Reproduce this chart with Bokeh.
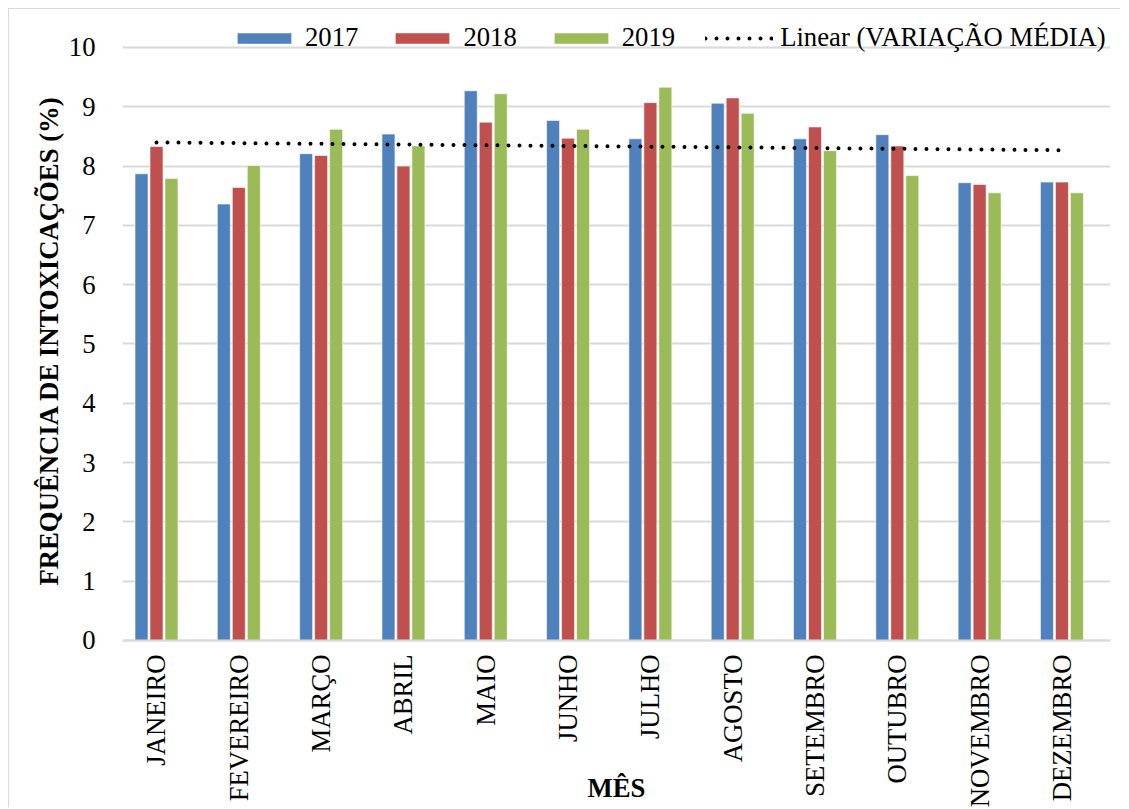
import math
import numpy as np
from bokeh.plotting import figure
from bokeh.models import Range1d, FixedTicker, Legend, LegendItem, ColumnDataSource, Title
from bokeh.transform import dodge
from bokeh.embed import file_html
from bokeh.resources import INLINE

# ---------------- data ----------------
months = ["JANEIRO", "FEVEREIRO", "MARÇO", "ABRIL", "MAIO", "JUNHO",
          "JULHO", "AGOSTO", "SETEMBRO", "OUTUBRO", "NOVEMBRO", "DEZEMBRO"]
v2017 = [7.87, 7.36, 8.21, 8.54, 9.27, 8.77, 8.46, 9.06, 8.46, 8.53, 7.72, 7.73]
v2018 = [8.33, 7.64, 8.18, 8.00, 8.74, 8.47, 9.07, 9.15, 8.66, 8.34, 7.69, 7.73]
v2019 = [7.79, 8.01, 8.62, 8.34, 9.22, 8.62, 9.33, 8.89, 8.26, 7.84, 7.55, 7.55]
series_names = ["2017", "2018", "2019"]
trend_name = "Linear (VARIAÇÃO MÉDIA)"
y_ticks = [0, 1, 2, 3, 4, 5, 6, 7, 8, 9, 10]
y_title = "FREQUÊNCIA DE INTOXICAÇÕES (%)"
x_title = "MÊS"

colors = ["#4F81BD", "#C0504D", "#9BBB59"]
FONT = "Liberation Serif"
FS = "26.7px"

xpos = list(range(1, len(months) + 1))
avg = np.mean([v2017, v2018, v2019], axis=0)
slope, intercept = np.polyfit(xpos, avg, 1)
trend = [intercept + slope * xi for xi in xpos]

src = ColumnDataSource(dict(x=xpos, a=v2017, b=v2018, c=v2019, t=trend))

p = figure(width=1112, height=799,
           x_range=Range1d(0.587, 12.59), y_range=Range1d(-2.833, 10.455),
           output_backend="svg", toolbar_location=None,
           min_border_left=113, min_border_right=11,
           min_border_top=11, min_border_bottom=0)
p.styles = {"margin-left": "8px", "margin-top": "8px",
            "border-top": "1px solid #d9d9d9", "border-left": "1px solid #d9d9d9"}
p.outline_line_color = None
p.background_fill_color = "white"
p.border_fill_color = "white"

off = 0.182
bw = 0.158
r1 = p.vbar(x=dodge("x", -off), top="a", width=bw, source=src, fill_color=colors[0],
            line_color="white", line_alpha=0.6, line_width=1)
r2 = p.vbar(x=dodge("x", 0), top="b", width=bw, source=src, fill_color=colors[1],
            line_color="white", line_alpha=0.6, line_width=1)
r3 = p.vbar(x=dodge("x", off), top="c", width=bw, source=src, fill_color=colors[2],
            line_color="white", line_alpha=0.6, line_width=1)
r4 = p.line(x="x", y="t", source=src, line_color="black", line_width=4,
            line_dash="0 11", line_cap="round")

# y axis
p.yaxis.ticker = FixedTicker(ticks=y_ticks)
p.yaxis.axis_line_color = None
p.yaxis.major_tick_line_color = None
p.yaxis.minor_tick_line_color = None
p.yaxis.major_label_standoff = 21
p.yaxis.major_label_text_font = FONT
p.yaxis.major_label_text_font_size = FS
p.yaxis.major_label_text_color = "black"

p.add_layout(Title(text=y_title, align="left", offset=223, standoff=4,
                   text_font=FONT, text_font_size=FS, text_font_style="bold",
                   text_color="black"), "left")

# x axis drawn at y = 0 inside the frame
p.xaxis.fixed_location = 0
p.xaxis.ticker = FixedTicker(ticks=xpos)
p.xaxis.major_label_overrides = {i: m for i, m in zip(xpos, months)}
p.xaxis.major_label_orientation = math.pi / 2
p.xaxis.axis_line_color = "#d9d9d9"
p.xaxis.axis_line_width = 2
p.xaxis.major_tick_line_color = None
p.xaxis.minor_tick_line_color = None
p.xaxis.major_label_standoff = 8
p.xaxis.major_label_text_font = FONT
p.xaxis.major_label_text_font_size = FS
p.xaxis.major_label_text_color = "black"
p.xaxis.axis_label = x_title
p.xaxis.axis_label_text_font = FONT
p.xaxis.axis_label_text_font_size = FS
p.xaxis.axis_label_text_font_style = "bold"
p.xaxis.axis_label_text_color = "black"
p.xaxis.axis_label_standoff = -37

p.xgrid.grid_line_color = None
p.ygrid.grid_line_color = "#d9d9d9"
p.ygrid.grid_line_width = 2

legend = Legend(items=[LegendItem(label=series_names[0], renderers=[r1]),
                       LegendItem(label=series_names[1], renderers=[r2]),
                       LegendItem(label=series_names[2], renderers=[r3]),
                       LegendItem(label=trend_name, renderers=[r4])],
                orientation="horizontal", location=(108, 755),
                glyph_width=68, glyph_height=14, label_standoff=7, spacing=30,
                padding=0, margin=0, border_line_color=None,
                background_fill_alpha=0,
                label_text_font=FONT, label_text_font_size=FS,
                label_text_color="black")
p.add_layout(legend, "center")

open("out.html", "w").write(file_html(p, INLINE))
